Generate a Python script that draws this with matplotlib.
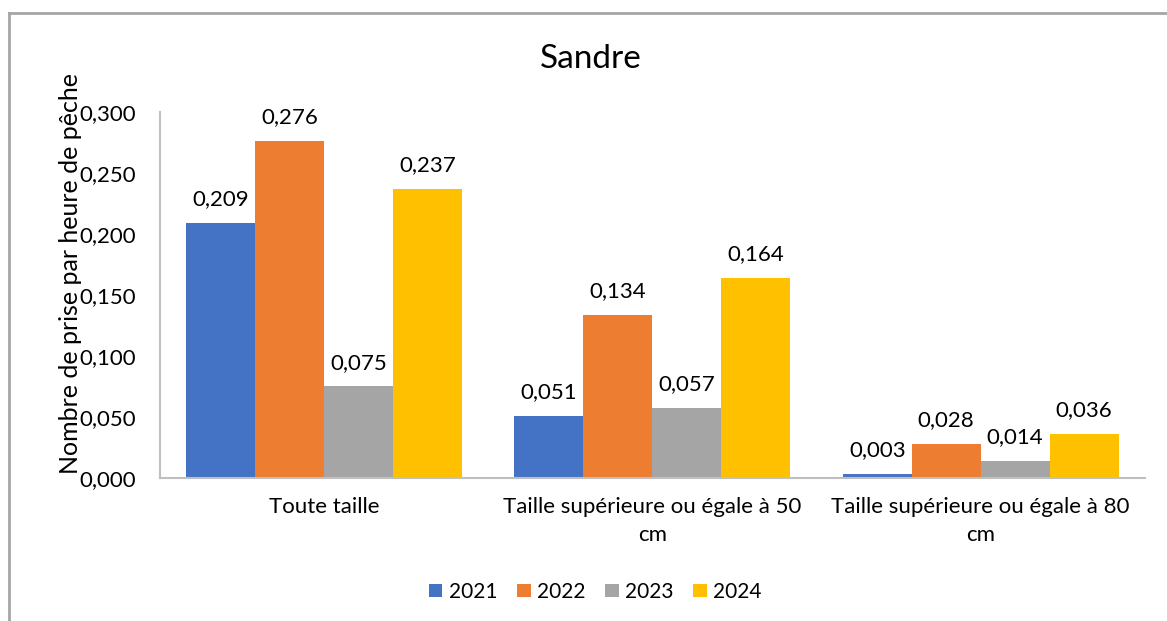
import numpy as np
import matplotlib.pyplot as plt
from matplotlib.lines import Line2D

plt.rcParams['font.family'] = ['Lato', 'DejaVu Sans']

# data
categories = ['Toute taille',
              'Taille supérieure ou égale à 50\ncm',
              'Taille supérieure ou égale à 80\ncm']
years = ['2021', '2022', '2023', '2024']
v2021 = [0.209, 0.051, 0.003]
v2022 = [0.276, 0.134, 0.028]
v2023 = [0.075, 0.057, 0.014]
v2024 = [0.237, 0.164, 0.036]
colors = ['#4472C4', '#ED7D31', '#A5A5A5', '#FFC000']

series = [v2021, v2022, v2023, v2024]

f = plt.figure(figsize=(11.67, 6.21), dpi=100)
ax = f.add_axes([0.137, 0.2303, 0.844, 0.5893])

x = np.arange(len(categories))
w = 0.21
for i, (vals, yr, c) in enumerate(zip(series, years, colors)):
    pos = x + (i - 1.5) * w
    bars = ax.bar(pos, vals, width=w, color=c, label=yr)
    for b, v in zip(bars, vals):
        ax.annotate('{:.3f}'.format(v).replace('.', ','),
                    (b.get_x() + b.get_width() / 2, v),
                    xytext=(0, 10), textcoords='offset points',
                    ha='center', va='bottom', fontsize=16)

ax.set_xlim(-0.5, 2.5)
ax.set_ylim(0, 0.3)
ticks = np.arange(0, 0.301, 0.05)
ax.set_yticks(ticks)
ax.set_yticklabels(['{:.3f}'.format(t).replace('.', ',') for t in ticks], fontsize=16)
ax.set_xticks(x)
ax.set_xticklabels(categories, fontsize=16, linespacing=1.45)
ax.tick_params(length=0, pad=14)
ax.tick_params(axis='y', pad=17)

for s in ['top', 'right']:
    ax.spines[s].set_visible(False)
ax.spines['left'].set_color('#BFBFBF')
ax.spines['bottom'].set_color('#BFBFBF')
ax.spines['left'].set_linewidth(1.5)
ax.spines['bottom'].set_linewidth(1.5)

ax.set_ylabel('Nombre de prise par heure de pêche', fontsize=18)
ax.yaxis.set_label_coords(-0.079, 0.56)

f.text(0.506, 0.905, 'Sandre', ha='center', va='center', fontsize=24)

ax.legend(loc='center', bbox_to_anchor=(0.51, 0.047), bbox_transform=f.transFigure,
          ncol=4, frameon=False, fontsize=15, handlelength=0.65, handleheight=0.65,
          handletextpad=0.3, columnspacing=0.95)

# chart border (left and top)
f.add_artist(Line2D([0.0077, 0.0077], [0.0, 0.979], color='#A6A6A6', lw=2))
f.add_artist(Line2D([0.0077, 1.0], [0.979, 0.979], color='#A6A6A6', lw=2))

f.savefig('out.png', dpi=100)
